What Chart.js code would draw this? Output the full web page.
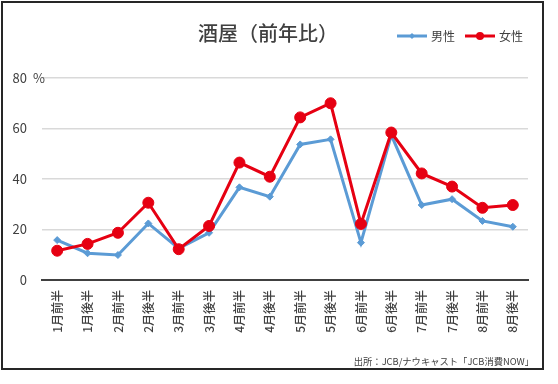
<!DOCTYPE html>
<html>
<head>
<meta charset="utf-8">
<script src="https://cdn.jsdelivr.net/npm/chart.js@4.4.0/dist/chart.umd.min.js"></script>
<style>
html, body { margin: 0; padding: 0; background: #fff; }
#wrap { width: 558px; height: 384px; }
</style>
</head>
<body>
<div id="wrap"><canvas id="myChart" width="558" height="384"></canvas></div>
<script>
const labels = ['1月前半', '1月後半', '2月前半', '2月後半', '3月前半', '3月後半', '4月前半', '4月後半',
                '5月前半', '5月後半', '6月前半', '6月後半', '7月前半', '7月後半', '8月前半', '8月後半'];
const male = [15.8, 10.6, 9.9, 22.4, 12.5, 18.7, 36.7, 33.0, 53.7, 55.7, 14.8, 57.4, 29.7, 32.0, 23.4, 21.1];
const female = [11.6, 14.3, 18.7, 30.6, 12.2, 21.4, 46.5, 40.9, 64.4, 70.0, 22.2, 58.4, 42.2, 37.0, 28.6, 29.7];
const yMin = 0;
const yMax = 80;
const yStep = 20;
const yUnit = '%';
const titleText = '酒屋（前年比）';
const sourceText = '出所：JCB/ナウキャスト「JCB消費NOW」';

const blue = '#5b9bd5';
const red = '#e60012';
const textColor = '#404040';
const fontFamily = '"Noto Sans CJK JP", "Noto Sans", sans-serif';

// little line + marker picture for the legend
function legendMark(color, style, r) {
    const c = document.createElement('canvas');
    c.width = 30;
    c.height = 12;
    const g = c.getContext('2d');
    g.strokeStyle = color;
    g.lineWidth = 3;
    g.beginPath();
    g.moveTo(0, 6);
    g.lineTo(30, 6);
    g.stroke();
    g.fillStyle = color;
    g.beginPath();
    if (style === 'circle') {
        g.arc(15, 6, r, 0, Math.PI * 2);
    } else {
        g.moveTo(15, 6 - r);
        g.lineTo(15 + r, 6);
        g.lineTo(15, 6 + r);
        g.lineTo(15 - r, 6);
        g.closePath();
    }
    g.fill();
    return c;
}
const marks = [legendMark(blue, 'diamond', 3), legendMark(red, 'circle', 4)];

const extras = {
    id: 'extras',
    beforeInit(chart) {
        const fit = chart.legend.fit;
        chart.legend.fit = function () {
            fit.call(this);
            this.height = 60;
        };
    },
    afterUpdate(chart) {
        // legend sits a bit further right than the plot edge
        chart.legend.left += 7;
        chart.legend.right += 7;
    },
    afterDraw(chart) {
        const ctx = chart.ctx;
        const y = chart.scales.y;
        ctx.save();
        ctx.fillStyle = textColor;
        ctx.textBaseline = 'middle';

        ctx.font = '500 20px ' + fontFamily;
        ctx.textAlign = 'center';
        ctx.fillText(titleText, 268, 33);

        ctx.font = '13px ' + fontFamily;
        ctx.textAlign = 'left';
        ctx.fillText(yUnit, 33, y.getPixelForValue(yMax));

        ctx.font = '9.3px ' + fontFamily;
        ctx.textAlign = 'right';
        ctx.fillText(sourceText, 534, 361);

        ctx.strokeStyle = '#262626';
        ctx.lineWidth = 2;
        ctx.strokeRect(2, 2, 541, 367);
        ctx.restore();
    }
};

const ctx = document.getElementById('myChart').getContext('2d');
const myChart = new Chart(ctx, {
    type: 'line',
    data: {
        labels: labels,
        datasets: [{
            label: '男性',
            data: male,
            borderColor: blue,
            backgroundColor: blue,
            borderWidth: 3,
            pointStyle: 'rectRot',
            pointRadius: 3.5,
            pointBorderWidth: 1,
            order: 1
        }, {
            label: '女性',
            data: female,
            borderColor: red,
            backgroundColor: red,
            borderWidth: 3,
            pointStyle: 'circle',
            pointRadius: 5.5,
            pointBorderWidth: 1,
            order: 0
        }]
    },
    options: {
        responsive: false,
        animation: false,
        layout: { padding: { top: 18, right: 30, bottom: 0, left: 0 } },
        plugins: {
            title: { display: false },
            tooltip: { enabled: false },
            legend: {
                position: 'top',
                align: 'end',
                labels: {
                    usePointStyle: true,
                    pointStyleWidth: 26,
                    padding: 12,
                    color: textColor,
                    font: { size: 12, family: fontFamily },
                    sort: (a, b) => a.datasetIndex - b.datasetIndex,
                    generateLabels(chart) {
                        const items = Chart.defaults.plugins.legend.labels.generateLabels(chart);
                        items.forEach(it => { it.pointStyle = marks[it.datasetIndex]; });
                        return items;
                    }
                }
            }
        },
        scales: {
            x: {
                offset: true,
                grid: { display: false, drawTicks: false },
                border: { display: true, color: '#404040', width: 2 },
                ticks: {
                    autoSkip: false,
                    minRotation: 90,
                    maxRotation: 90,
                    padding: 10,
                    color: textColor,
                    font: { size: 12, weight: '500', family: fontFamily }
                },
                afterFit(s) { s.height = 104; }
            },
            y: {
                min: yMin,
                max: yMax,
                border: { display: false },
                grid: {
                    drawTicks: false,
                    lineWidth: 1.5,
                    color: c => c.tick.value === 0 ? 'rgba(0,0,0,0)' : '#d9d9d9'
                },
                ticks: {
                    stepSize: yStep,
                    padding: 15,
                    color: textColor,
                    font: { size: 13, family: fontFamily }
                },
                afterFit(s) { s.width = 42; }
            }
        }
    },
    plugins: [extras]
});
</script>
</body>
</html>
